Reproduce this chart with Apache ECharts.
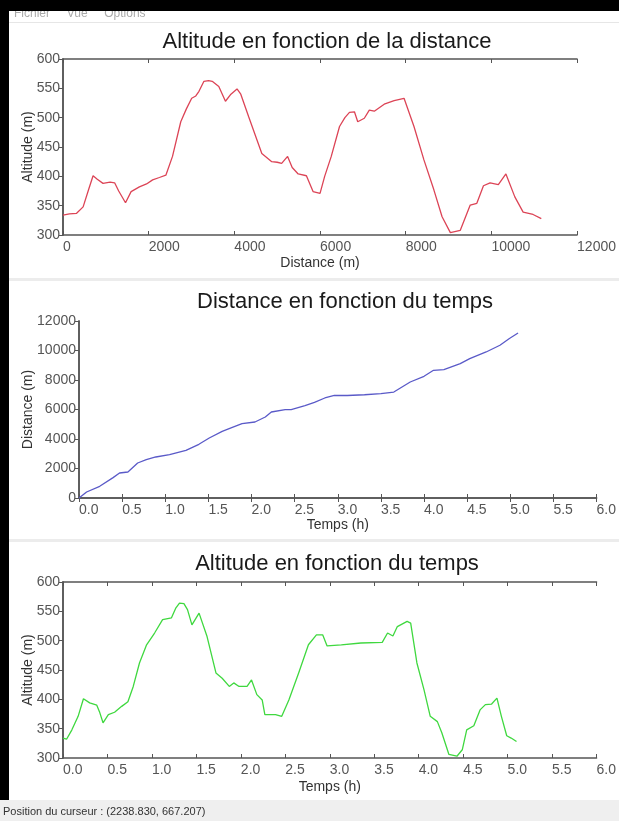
<!DOCTYPE html>
<html>
<head>
<meta charset="utf-8">
<script src="https://cdn.jsdelivr.net/npm/echarts@6/dist/echarts.min.js"></script>
<style>
html,body{margin:0;padding:0;background:#fff;}
#chart{width:619px;height:821px;}
</style>
</head>
<body>
<div id="chart"></div>
<script>
// ---- Chart 1: Altitude vs distance ----
var altDist_distance = [0,150,317,470,600,702,800,934,1100,1205,1300,1459,1590,1783,1950,2092,2250,2401,2556,2749,2880,3004,3100,3174,3290,3400,3483,3637,3792,3920,4062,4150,4332,4641,4873,5000,5104,5243,5350,5490,5682,5837,6000,6108,6262,6455,6580,6687,6803,6880,7034,7150,7266,7498,7730,7961,8000,8193,8425,8657,8849,9042,9274,9506,9660,9815,9969,10162,10339,10547,10741,10973,11165];
var altDist_altitude = [334,336,337,348,378,401,395,388,390,389,375,355,374,382,387,394,398,402,434,493,515,533,537,545,562,563,562,553,528,540,549,540,502,439,425,424,422,434,415,404,401,374,371,400,434,485,500,509,510,493,499,513,511,523,529,533,533,485,428,377,331,304,308,351,354,384,389,386,404,365,339,335,328];

// ---- Chart 2: Distance vs time ----
var distTime_time = [0,0.088,0.24,0.395,0.47,0.567,0.68,0.78,0.89,1.05,1.24,1.39,1.51,1.66,1.77,1.89,2.04,2.16,2.23,2.39,2.46,2.62,2.73,2.85,2.96,3.11,3.31,3.50,3.65,3.84,4.0,4.11,4.23,4.42,4.53,4.72,4.88,4.99,5.09];
var distTime_distance = [0,407,793,1383,1695,1763,2373,2603,2780,2942,3234,3641,4068,4522,4773,5044,5152,5491,5830,5993,5993,6264,6480,6780,6963,6950,7000,7076,7185,7864,8250,8657,8703,9110,9449,9901,10356,10810,11190];

// ---- Chart 3: Altitude vs time ----
var altTime_time = [0,0.04,0.1,0.17,0.23,0.30,0.38,0.41,0.45,0.51,0.58,0.66,0.73,0.79,0.86,0.94,1.03,1.12,1.22,1.27,1.31,1.36,1.40,1.45,1.53,1.62,1.72,1.79,1.87,1.92,1.98,2.07,2.12,2.18,2.24,2.27,2.39,2.46,2.54,2.65,2.76,2.85,2.92,2.97,3.13,3.35,3.59,3.65,3.71,3.76,3.87,3.91,3.98,4.06,4.13,4.21,4.26,4.34,4.43,4.49,4.54,4.62,4.69,4.75,4.82,4.88,4.93,4.99,5.04,5.10];
var altTime_altitude = [334,332,348,371,401,394,390,379,360,374,378,388,396,422,462,493,513,536,539,556,564,563,553,527,547,507,445,436,422,428,422,422,433,408,399,374,374,371,399,445,493,510,510,491,493,496,497,513,508,524,533,530,462,416,371,362,343,306,303,314,348,355,382,391,392,402,371,338,334,328];

// tick settings
var distTicks = {min:0, max:12000, interval:2000};
var altTicks = {min:300, max:600, interval:50};
var timeTicks = {min:0, max:6, interval:0.5};
var distYTicks = {min:0, max:12000, interval:2000};

var titles = ['Altitude en fonction de la distance','Distance en fonction du temps','Altitude en fonction du temps'];
var xNames = ['Distance (m)','Temps (h)','Temps (h)'];
var yNames = ['Altitude (m)','Distance (m)','Altitude (m)'];
var statusText = 'Position du curseur : (2238.830, 667.207)';
var menuText = 'Fichier     Vue     Options';

function zip(a,b){return a.map(function(v,i){return [v,b[i]];});}

var FONT = 'Liberation Sans';
var frameColor = '#555';
var grids = [
  {left:63, top:59, width:518, height:176},
  {left:79, top:321, width:522, height:177},
  {left:63, top:582, width:538, height:176}
];
var xTickSets = [distTicks, timeTicks, timeTicks];
var yTickSets = [altTicks, distYTicks, altTicks];
var yNameGaps = [28, 44, 28];
var xNameGaps = [21, 20, 22];
var titleTops = [26, 286, 548];
var colors = ['#dc4456','#5a5ac8','#3fd83f'];
var dataSets = [zip(altDist_distance, altDist_altitude), zip(distTime_time, distTime_distance), zip(altTime_time, altTime_altitude)];

var xAxes=[], yAxes=[], series=[], titleArr=[];
grids.forEach(function(g,i){
  var xt=xTickSets[i], yt=yTickSets[i];
  var isTime = (i>0);
  xAxes.push({
    type:'value', gridIndex:i, position:'bottom', min:xt.min, max:xt.max, interval:xt.interval,
    name:xNames[i], nameLocation:'middle', nameGap:xNameGaps[i], nameMoveOverlap:false,
    nameTextStyle:{fontFamily:FONT, fontSize:14, color:'#333'},
    axisLine:{show:true, lineStyle:{color:frameColor, width:1.5}},
    axisTick:{show:true, inside:true, length:4, lineStyle:{color:frameColor}},
    axisLabel:{show:true, fontFamily:FONT, fontSize:14, color:'#555', align:'left', margin:5,
      showMinLabel:true, showMaxLabel:true, hideOverlap:false,
      formatter:function(v){return isTime ? v.toFixed(1) : String(v);}},
    splitLine:{show:false}
  });
  xAxes.push({
    type:'value', gridIndex:i, position:'top', min:xt.min, max:xt.max, interval:xt.interval,
    axisLine:{show:true, lineStyle:{color:frameColor, width:1.5}},
    axisTick:{show:true, inside:true, length:4, lineStyle:{color:frameColor}},
    axisLabel:{show:false}, splitLine:{show:false}
  });
  yAxes.push({
    type:'value', gridIndex:i, position:'left', min:yt.min, max:yt.max, interval:yt.interval,
    name:yNames[i], nameLocation:'middle', nameGap:yNameGaps[i], nameRotate:90, nameMoveOverlap:false,
    nameTextStyle:{fontFamily:FONT, fontSize:14, color:'#333'},
    axisLine:{show:true, lineStyle:{color:frameColor, width:1.5}},
    axisTick:{show:true, inside:false, length:3, lineStyle:{color:frameColor}},
    axisLabel:{show:true, fontFamily:FONT, fontSize:14, color:'#555', margin:3, hideOverlap:false,
      formatter:function(v){return String(v);}},
    splitLine:{show:false}
  });
  yAxes.push({
    type:'value', gridIndex:i, position:'right', min:yt.min, max:yt.max, interval:yt.interval,
    axisLine:{show:true, lineStyle:{color:frameColor, width:1.5}},
    axisTick:{show:true, inside:true, length:4, lineStyle:{color:frameColor}},
    axisLabel:{show:false}, splitLine:{show:false}
  });
  series.push({
    type:'line', xAxisIndex:2*i, yAxisIndex:2*i, data:dataSets[i],
    showSymbol:false, symbol:'none', smooth:false,
    lineStyle:{color:colors[i], width:1.3}, itemStyle:{color:colors[i]},
    animation:false
  });
  titleArr.push({
    text:titles[i], left:g.left+g.width/2, top:titleTops[i], textAlign:'center',
    textStyle:{fontFamily:FONT, fontSize:22, fontWeight:'normal', color:'#1a1a1a'}
  });
});

var graphics = [
  {type:'text', left:14, top:8, style:{text:menuText, fontFamily:FONT, fontSize:12, fill:'#aaa'}, z:1},
  {type:'rect', shape:{x:0,y:22,width:619,height:1}, style:{fill:'#e6e6e6'}, z:1},
  {type:'rect', shape:{x:0,y:278,width:619,height:3}, style:{fill:'#ececec'}, z:1},
  {type:'rect', shape:{x:0,y:539,width:619,height:3}, style:{fill:'#ececec'}, z:1},
  {type:'rect', shape:{x:0,y:800,width:619,height:21}, style:{fill:'#efefef'}, z:1},
  {type:'text', left:3, top:806, style:{text:statusText, fontFamily:FONT, fontSize:11, fill:'#333'}, z:3},
  {type:'rect', shape:{x:0,y:0,width:619,height:11}, style:{fill:'#000'}, z:5},
  {type:'rect', shape:{x:0,y:0,width:9,height:800}, style:{fill:'#000'}, z:5}
];

var chart = echarts.init(document.getElementById('chart'), null, {renderer:'canvas'});
chart.setOption({
  backgroundColor:'#fff',
  animation:false,
  title:titleArr,
  grid:grids.map(function(g){return {left:g.left, top:g.top, width:g.width, height:g.height, containLabel:false};}),
  xAxis:xAxes,
  yAxis:yAxes,
  series:series,
  graphic:graphics
});
</script>
</body>
</html>
